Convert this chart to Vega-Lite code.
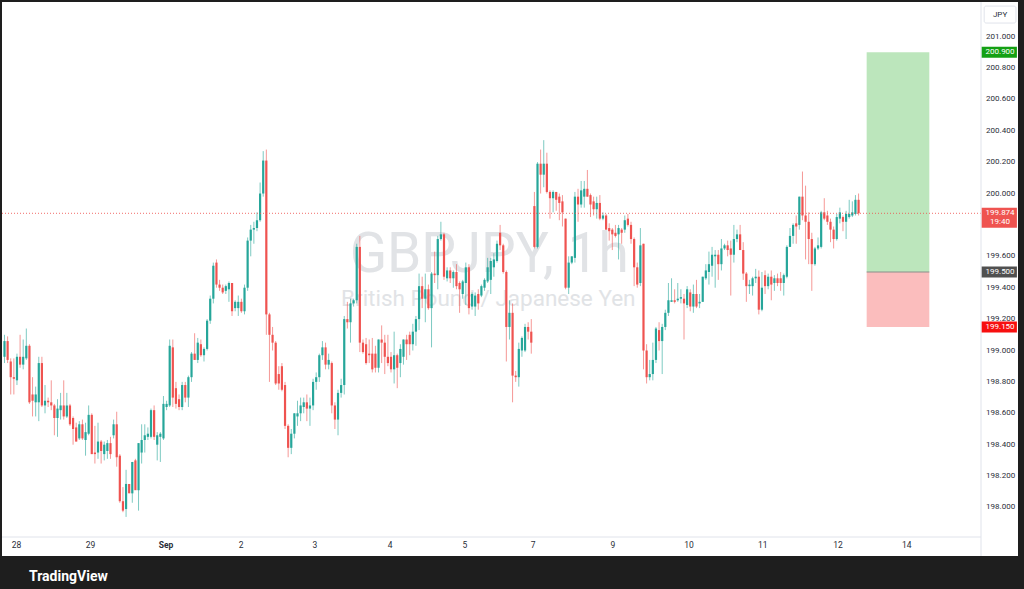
{
"$schema": "https://vega.github.io/schema/vega-lite/v6.json",
"width": 979, "height": 535,
"autosize": {"type": "none"},
"padding": {"left": 2, "top": 2, "right": 43, "bottom": 52},
"background": "#1e1e1e",
"title": {"text": "TradingView", "orient": "bottom", "anchor": "start", "offset": 25, "dx": 27.5, "fontSize": 14, "fontWeight": "bold", "color": "#ffffff", "font": "Roboto", "baseline": "alphabetic"},
"config": {"view": {"stroke": null}, "font": "Roboto", "scale": {"continuousPadding": 0}},
"datasets": {
"candles": [
{"i":0,"o":198.96,"h":199.10,"l":198.92,"c":199.06},
{"i":1,"o":199.06,"h":199.09,"l":198.92,"c":198.94},
{"i":2,"o":198.93,"h":198.95,"l":198.72,"c":198.83},
{"i":3,"o":198.83,"h":198.95,"l":198.72,"c":198.82},
{"i":4,"o":198.81,"h":198.98,"l":198.78,"c":198.96},
{"i":5,"o":198.96,"h":199.10,"l":198.89,"c":198.91},
{"i":6,"o":198.91,"h":199.07,"l":198.88,"c":198.96},
{"i":7,"o":198.95,"h":199.14,"l":198.94,"c":199.03},
{"i":8,"o":199.03,"h":199.04,"l":198.66,"c":198.67},
{"i":9,"o":198.72,"h":198.83,"l":198.58,"c":198.68},
{"i":10,"o":198.67,"h":198.77,"l":198.58,"c":198.72},
{"i":11,"o":198.67,"h":198.96,"l":198.55,"c":198.92},
{"i":12,"o":198.92,"h":198.96,"l":198.64,"c":198.65},
{"i":13,"o":198.65,"h":198.78,"l":198.60,"c":198.68},
{"i":14,"o":198.68,"h":198.70,"l":198.64,"c":198.67},
{"i":15,"o":198.67,"h":198.81,"l":198.62,"c":198.65},
{"i":16,"o":198.65,"h":198.66,"l":198.46,"c":198.57},
{"i":17,"o":198.57,"h":198.69,"l":198.45,"c":198.63},
{"i":18,"o":198.62,"h":198.73,"l":198.56,"c":198.65},
{"i":19,"o":198.65,"h":198.81,"l":198.56,"c":198.58},
{"i":20,"o":198.58,"h":198.73,"l":198.57,"c":198.65},
{"i":21,"o":198.65,"h":198.66,"l":198.52,"c":198.53},
{"i":22,"o":198.57,"h":198.58,"l":198.40,"c":198.50},
{"i":23,"o":198.51,"h":198.54,"l":198.42,"c":198.42},
{"i":24,"o":198.44,"h":198.55,"l":198.43,"c":198.53},
{"i":25,"o":198.53,"h":198.56,"l":198.43,"c":198.44},
{"i":26,"o":198.43,"h":198.54,"l":198.33,"c":198.48},
{"i":27,"o":198.47,"h":198.65,"l":198.46,"c":198.59},
{"i":28,"o":198.59,"h":198.60,"l":198.34,"c":198.34},
{"i":29,"o":198.35,"h":198.52,"l":198.28,"c":198.34},
{"i":30,"o":198.35,"h":198.54,"l":198.31,"c":198.42},
{"i":31,"o":198.42,"h":198.43,"l":198.28,"c":198.36},
{"i":32,"o":198.34,"h":198.42,"l":198.30,"c":198.40},
{"i":33,"o":198.36,"h":198.43,"l":198.31,"c":198.41},
{"i":34,"o":198.41,"h":198.45,"l":198.31,"c":198.34},
{"i":35,"o":198.46,"h":198.56,"l":198.44,"c":198.53},
{"i":36,"o":198.53,"h":198.61,"l":198.26,"c":198.32},
{"i":37,"o":198.33,"h":198.34,"l":198.03,"c":198.04},
{"i":38,"o":198.04,"h":198.13,"l":197.97,"c":197.98},
{"i":39,"o":197.99,"h":198.24,"l":197.94,"c":198.15},
{"i":40,"o":198.15,"h":198.15,"l":198.09,"c":198.09},
{"i":41,"o":198.09,"h":198.29,"l":198.03,"c":198.29},
{"i":42,"o":198.30,"h":198.31,"l":198.12,"c":198.11},
{"i":43,"o":198.11,"h":198.41,"l":197.98,"c":198.41},
{"i":44,"o":198.35,"h":198.53,"l":198.28,"c":198.43},
{"i":45,"o":198.43,"h":198.53,"l":198.35,"c":198.46},
{"i":46,"o":198.45,"h":198.51,"l":198.43,"c":198.47},
{"i":47,"o":198.45,"h":198.63,"l":198.44,"c":198.62},
{"i":48,"o":198.62,"h":198.65,"l":198.43,"c":198.45},
{"i":49,"o":198.40,"h":198.48,"l":198.30,"c":198.46},
{"i":50,"o":198.45,"h":198.48,"l":198.29,"c":198.47},
{"i":51,"o":198.44,"h":198.71,"l":198.43,"c":198.66},
{"i":52,"o":198.64,"h":198.68,"l":198.62,"c":198.66},
{"i":53,"o":198.65,"h":199.07,"l":198.64,"c":199.03},
{"i":54,"o":199.02,"h":199.07,"l":198.64,"c":198.70},
{"i":55,"o":198.76,"h":198.80,"l":198.63,"c":198.66},
{"i":56,"o":198.69,"h":198.72,"l":198.62,"c":198.64},
{"i":57,"o":198.64,"h":198.80,"l":198.62,"c":198.78},
{"i":58,"o":198.78,"h":198.80,"l":198.67,"c":198.70},
{"i":59,"o":198.70,"h":198.84,"l":198.64,"c":198.83},
{"i":60,"o":198.83,"h":198.99,"l":198.80,"c":198.98},
{"i":61,"o":198.98,"h":199.11,"l":198.94,"c":198.94},
{"i":62,"o":198.94,"h":199.08,"l":198.92,"c":199.05},
{"i":63,"o":199.04,"h":199.07,"l":198.96,"c":198.97},
{"i":64,"o":198.97,"h":199.02,"l":198.93,"c":199.01},
{"i":65,"o":199.01,"h":199.20,"l":199.00,"c":199.19},
{"i":66,"o":199.19,"h":199.35,"l":199.17,"c":199.33},
{"i":67,"o":199.33,"h":199.56,"l":199.30,"c":199.54},
{"i":68,"o":199.56,"h":199.58,"l":199.40,"c":199.42},
{"i":69,"o":199.42,"h":199.45,"l":199.38,"c":199.40},
{"i":70,"o":199.40,"h":199.42,"l":199.36,"c":199.37},
{"i":71,"o":199.38,"h":199.42,"l":199.36,"c":199.41},
{"i":72,"o":199.39,"h":199.44,"l":199.31,"c":199.43},
{"i":73,"o":199.43,"h":199.43,"l":199.22,"c":199.25},
{"i":74,"o":199.27,"h":199.32,"l":199.25,"c":199.31},
{"i":75,"o":199.27,"h":199.35,"l":199.22,"c":199.31},
{"i":76,"o":199.31,"h":199.33,"l":199.24,"c":199.25},
{"i":77,"o":199.25,"h":199.42,"l":199.23,"c":199.40},
{"i":78,"o":199.40,"h":199.72,"l":199.38,"c":199.70},
{"i":79,"o":199.70,"h":199.80,"l":199.60,"c":199.77},
{"i":80,"o":199.77,"h":199.82,"l":199.68,"c":199.78},
{"i":81,"o":199.78,"h":199.88,"l":199.76,"c":199.83},
{"i":82,"o":199.83,"h":200.07,"l":199.82,"c":200.00},
{"i":83,"o":200.00,"h":200.27,"l":199.98,"c":200.21},
{"i":84,"o":200.21,"h":200.28,"l":199.10,"c":199.23},
{"i":85,"o":199.23,"h":199.24,"l":198.80,"c":199.10},
{"i":86,"o":199.10,"h":199.15,"l":199.00,"c":199.05},
{"i":87,"o":199.05,"h":199.06,"l":198.78,"c":198.79},
{"i":88,"o":198.85,"h":198.90,"l":198.75,"c":198.79},
{"i":89,"o":198.90,"h":198.92,"l":198.74,"c":198.75},
{"i":90,"o":198.78,"h":198.80,"l":198.50,"c":198.52},
{"i":91,"o":198.52,"h":198.53,"l":198.32,"c":198.38},
{"i":92,"o":198.38,"h":198.50,"l":198.34,"c":198.47},
{"i":93,"o":198.47,"h":198.60,"l":198.44,"c":198.60},
{"i":94,"o":198.58,"h":198.68,"l":198.52,"c":198.60},
{"i":95,"o":198.60,"h":198.70,"l":198.55,"c":198.65},
{"i":96,"o":198.64,"h":198.70,"l":198.60,"c":198.67},
{"i":97,"o":198.67,"h":198.72,"l":198.55,"c":198.63},
{"i":98,"o":198.63,"h":198.70,"l":198.52,"c":198.65},
{"i":99,"o":198.65,"h":198.82,"l":198.62,"c":198.80},
{"i":100,"o":198.80,"h":198.86,"l":198.75,"c":198.83},
{"i":101,"o":198.83,"h":198.98,"l":198.80,"c":198.97},
{"i":102,"o":198.97,"h":199.06,"l":198.94,"c":199.02},
{"i":103,"o":199.02,"h":199.05,"l":198.88,"c":198.91},
{"i":104,"o":198.91,"h":198.98,"l":198.88,"c":198.94},
{"i":105,"o":198.92,"h":198.93,"l":198.60,"c":198.65},
{"i":106,"o":198.65,"h":198.67,"l":198.50,"c":198.56},
{"i":107,"o":198.56,"h":198.75,"l":198.46,"c":198.73},
{"i":108,"o":198.73,"h":198.82,"l":198.70,"c":198.78},
{"i":109,"o":198.78,"h":199.22,"l":198.72,"c":199.20},
{"i":110,"o":199.20,"h":199.31,"l":199.14,"c":199.18},
{"i":111,"o":199.18,"h":199.33,"l":199.05,"c":199.30},
{"i":112,"o":199.30,"h":199.33,"l":199.28,"c":199.32},
{"i":113,"o":199.32,"h":199.68,"l":199.30,"c":199.66},
{"i":114,"o":199.66,"h":199.73,"l":198.99,"c":199.05},
{"i":115,"o":199.05,"h":199.07,"l":198.98,"c":198.99},
{"i":116,"o":199.04,"h":199.08,"l":198.91,"c":198.92},
{"i":117,"o":198.98,"h":199.07,"l":198.92,"c":198.97},
{"i":118,"o":198.98,"h":199.08,"l":198.86,"c":198.88},
{"i":119,"o":198.98,"h":199.03,"l":198.86,"c":198.89},
{"i":120,"o":198.89,"h":199.07,"l":198.86,"c":199.07},
{"i":121,"o":199.07,"h":199.16,"l":198.92,"c":199.05},
{"i":122,"o":199.05,"h":199.10,"l":198.85,"c":198.96},
{"i":123,"o":198.96,"h":199.10,"l":198.90,"c":198.92},
{"i":124,"o":198.96,"h":198.99,"l":198.86,"c":198.88},
{"i":125,"o":198.88,"h":199.12,"l":198.79,"c":198.97},
{"i":126,"o":198.97,"h":198.98,"l":198.76,"c":198.89},
{"i":127,"o":198.92,"h":199.04,"l":198.83,"c":199.01},
{"i":128,"o":198.96,"h":199.07,"l":198.91,"c":199.07},
{"i":129,"o":199.07,"h":199.10,"l":198.94,"c":199.04},
{"i":130,"o":199.10,"h":199.12,"l":198.97,"c":199.04},
{"i":131,"o":199.04,"h":199.17,"l":199.00,"c":199.12},
{"i":132,"o":199.12,"h":199.22,"l":199.03,"c":199.20},
{"i":133,"o":199.20,"h":199.49,"l":199.13,"c":199.41},
{"i":134,"o":199.41,"h":199.47,"l":199.27,"c":199.33},
{"i":135,"o":199.33,"h":199.49,"l":199.18,"c":199.39},
{"i":136,"o":199.39,"h":199.42,"l":199.26,"c":199.27},
{"i":137,"o":199.27,"h":199.50,"l":199.02,"c":199.49},
{"i":138,"o":199.49,"h":199.63,"l":199.43,"c":199.48},
{"i":139,"o":199.48,"h":199.73,"l":199.39,"c":199.71},
{"i":140,"o":199.71,"h":199.82,"l":199.70,"c":199.74},
{"i":141,"o":199.74,"h":199.75,"l":199.45,"c":199.47},
{"i":142,"o":199.46,"h":199.53,"l":199.44,"c":199.51},
{"i":143,"o":199.51,"h":199.53,"l":199.43,"c":199.46},
{"i":144,"o":199.46,"h":199.51,"l":199.40,"c":199.50},
{"i":145,"o":199.50,"h":199.55,"l":199.39,"c":199.41},
{"i":146,"o":199.43,"h":199.44,"l":199.24,"c":199.39},
{"i":147,"o":199.36,"h":199.45,"l":199.33,"c":199.44},
{"i":148,"o":199.43,"h":199.56,"l":199.29,"c":199.53},
{"i":149,"o":199.53,"h":199.55,"l":199.23,"c":199.27},
{"i":150,"o":199.28,"h":199.37,"l":199.26,"c":199.36},
{"i":151,"o":199.28,"h":199.37,"l":199.22,"c":199.35},
{"i":152,"o":199.36,"h":199.39,"l":199.26,"c":199.30},
{"i":153,"o":199.35,"h":199.42,"l":199.34,"c":199.41},
{"i":154,"o":199.40,"h":199.46,"l":199.38,"c":199.45},
{"i":155,"o":199.44,"h":199.59,"l":199.43,"c":199.53},
{"i":156,"o":199.45,"h":199.59,"l":199.36,"c":199.57},
{"i":157,"o":199.53,"h":199.62,"l":199.47,"c":199.58},
{"i":158,"o":199.57,"h":199.70,"l":199.56,"c":199.68},
{"i":159,"o":199.75,"h":199.80,"l":199.64,"c":199.67},
{"i":160,"o":199.67,"h":199.68,"l":199.49,"c":199.50},
{"i":161,"o":199.50,"h":199.51,"l":198.93,"c":199.15},
{"i":162,"o":199.15,"h":199.32,"l":199.07,"c":199.24},
{"i":163,"o":199.24,"h":199.30,"l":198.67,"c":198.84},
{"i":164,"o":198.84,"h":198.87,"l":198.80,"c":198.83},
{"i":165,"o":198.83,"h":199.05,"l":198.77,"c":199.01},
{"i":166,"o":199.00,"h":199.09,"l":198.96,"c":199.08},
{"i":167,"o":199.00,"h":199.17,"l":198.99,"c":199.15},
{"i":168,"o":199.15,"h":199.18,"l":199.07,"c":199.12},
{"i":169,"o":199.12,"h":199.20,"l":198.98,"c":199.05},
{"i":170,"o":199.92,"h":200.01,"l":199.65,"c":199.66},
{"i":171,"o":199.66,"h":200.20,"l":199.65,"c":200.19},
{"i":172,"o":200.19,"h":200.28,"l":200.00,"c":200.12},
{"i":173,"o":200.12,"h":200.34,"l":200.04,"c":200.19},
{"i":174,"o":200.19,"h":200.26,"l":200.00,"c":200.01},
{"i":175,"o":200.01,"h":200.02,"l":199.84,"c":199.97},
{"i":176,"o":199.97,"h":200.02,"l":199.88,"c":200.01},
{"i":177,"o":200.01,"h":200.01,"l":199.89,"c":199.96},
{"i":178,"o":199.98,"h":200.00,"l":199.83,"c":199.94},
{"i":179,"o":199.95,"h":199.99,"l":199.79,"c":199.88},
{"i":180,"o":199.84,"h":199.84,"l":199.39,"c":199.40},
{"i":181,"o":199.40,"h":199.60,"l":199.36,"c":199.56},
{"i":182,"o":199.56,"h":199.60,"l":199.55,"c":199.60},
{"i":183,"o":199.59,"h":200.01,"l":199.56,"c":199.98},
{"i":184,"o":199.98,"h":200.03,"l":199.82,"c":199.93},
{"i":185,"o":199.93,"h":200.08,"l":199.91,"c":200.02},
{"i":186,"o":199.98,"h":200.08,"l":199.91,"c":200.03},
{"i":187,"o":200.03,"h":200.15,"l":199.98,"c":199.98},
{"i":188,"o":199.99,"h":200.00,"l":199.85,"c":199.93},
{"i":189,"o":199.95,"h":199.98,"l":199.86,"c":199.90},
{"i":190,"o":199.90,"h":199.98,"l":199.84,"c":199.94},
{"i":191,"o":199.94,"h":199.99,"l":199.83,"c":199.84},
{"i":192,"o":199.84,"h":199.88,"l":199.83,"c":199.86},
{"i":193,"o":199.86,"h":199.87,"l":199.77,"c":199.77},
{"i":194,"o":199.78,"h":199.81,"l":199.70,"c":199.76},
{"i":195,"o":199.77,"h":199.78,"l":199.64,"c":199.74},
{"i":196,"o":199.75,"h":199.80,"l":199.72,"c":199.73},
{"i":197,"o":199.74,"h":199.80,"l":199.58,"c":199.78},
{"i":198,"o":199.77,"h":199.78,"l":199.68,"c":199.75},
{"i":199,"o":199.77,"h":199.86,"l":199.75,"c":199.83},
{"i":200,"o":199.84,"h":199.87,"l":199.79,"c":199.80},
{"i":201,"o":199.80,"h":199.82,"l":199.68,"c":199.71},
{"i":202,"o":199.71,"h":199.72,"l":199.41,"c":199.53},
{"i":203,"o":199.53,"h":199.56,"l":199.40,"c":199.42},
{"i":204,"o":199.43,"h":199.78,"l":199.41,"c":199.67},
{"i":205,"o":199.68,"h":199.68,"l":198.88,"c":199.00},
{"i":206,"o":199.00,"h":199.04,"l":198.79,"c":198.83},
{"i":207,"o":198.83,"h":198.94,"l":198.81,"c":198.85},
{"i":208,"o":198.85,"h":199.05,"l":198.81,"c":198.94},
{"i":209,"o":198.94,"h":199.15,"l":198.92,"c":199.14},
{"i":210,"o":199.13,"h":199.18,"l":199.00,"c":199.06},
{"i":211,"o":199.06,"h":199.17,"l":198.85,"c":199.15},
{"i":212,"o":199.15,"h":199.26,"l":199.13,"c":199.24},
{"i":213,"o":199.24,"h":199.43,"l":199.22,"c":199.32},
{"i":214,"o":199.31,"h":199.46,"l":199.31,"c":199.32},
{"i":215,"o":199.32,"h":199.39,"l":199.30,"c":199.31},
{"i":216,"o":199.32,"h":199.43,"l":199.31,"c":199.33},
{"i":217,"o":199.33,"h":199.39,"l":199.30,"c":199.34},
{"i":218,"o":199.33,"h":199.36,"l":199.07,"c":199.30},
{"i":219,"o":199.29,"h":199.41,"l":199.27,"c":199.39},
{"i":220,"o":199.37,"h":199.39,"l":199.25,"c":199.28},
{"i":221,"o":199.28,"h":199.42,"l":199.24,"c":199.36},
{"i":222,"o":199.36,"h":199.45,"l":199.27,"c":199.28},
{"i":223,"o":199.30,"h":199.36,"l":199.27,"c":199.31},
{"i":224,"o":199.31,"h":199.47,"l":199.31,"c":199.47},
{"i":225,"o":199.46,"h":199.55,"l":199.45,"c":199.51},
{"i":226,"o":199.50,"h":199.63,"l":199.42,"c":199.55},
{"i":227,"o":199.54,"h":199.66,"l":199.47,"c":199.61},
{"i":228,"o":199.60,"h":199.64,"l":199.40,"c":199.61},
{"i":229,"o":199.61,"h":199.64,"l":199.45,"c":199.55},
{"i":230,"o":199.55,"h":199.71,"l":199.51,"c":199.65},
{"i":231,"o":199.65,"h":199.68,"l":199.64,"c":199.67},
{"i":232,"o":199.67,"h":199.70,"l":199.60,"c":199.64},
{"i":233,"o":199.65,"h":199.70,"l":199.35,"c":199.61},
{"i":234,"o":199.61,"h":199.80,"l":199.56,"c":199.71},
{"i":235,"o":199.71,"h":199.77,"l":199.69,"c":199.74},
{"i":236,"o":199.74,"h":199.80,"l":199.64,"c":199.64},
{"i":237,"o":199.64,"h":199.69,"l":199.45,"c":199.49},
{"i":238,"o":199.49,"h":199.50,"l":199.31,"c":199.41},
{"i":239,"o":199.41,"h":199.45,"l":199.36,"c":199.42},
{"i":240,"o":199.41,"h":199.47,"l":199.35,"c":199.46},
{"i":241,"o":199.46,"h":199.52,"l":199.43,"c":199.47},
{"i":242,"o":199.47,"h":199.51,"l":199.23,"c":199.26},
{"i":243,"o":199.26,"h":199.50,"l":199.25,"c":199.40},
{"i":244,"o":199.48,"h":199.51,"l":199.36,"c":199.41},
{"i":245,"o":199.41,"h":199.49,"l":199.39,"c":199.47},
{"i":246,"o":199.47,"h":199.51,"l":199.32,"c":199.42},
{"i":247,"o":199.43,"h":199.48,"l":199.38,"c":199.46},
{"i":248,"o":199.46,"h":199.49,"l":199.41,"c":199.43},
{"i":249,"o":199.46,"h":199.50,"l":199.38,"c":199.43},
{"i":250,"o":199.43,"h":199.49,"l":199.35,"c":199.48},
{"i":251,"o":199.47,"h":199.67,"l":199.46,"c":199.66},
{"i":252,"o":199.66,"h":199.78,"l":199.66,"c":199.73},
{"i":253,"o":199.73,"h":199.81,"l":199.68,"c":199.80},
{"i":254,"o":199.81,"h":199.86,"l":199.68,"c":199.79},
{"i":255,"o":199.80,"h":199.98,"l":199.77,"c":199.98},
{"i":256,"o":199.98,"h":200.14,"l":199.83,"c":199.86},
{"i":257,"o":199.86,"h":200.05,"l":199.58,"c":199.82},
{"i":258,"o":199.82,"h":199.88,"l":199.55,"c":199.71},
{"i":259,"o":199.71,"h":199.75,"l":199.38,"c":199.55},
{"i":260,"o":199.55,"h":199.66,"l":199.54,"c":199.65},
{"i":261,"o":199.65,"h":199.72,"l":199.64,"c":199.67},
{"i":262,"o":199.66,"h":199.89,"l":199.65,"c":199.88},
{"i":263,"o":199.88,"h":199.97,"l":199.83,"c":199.84},
{"i":264,"o":199.86,"h":199.89,"l":199.80,"c":199.82},
{"i":265,"o":199.82,"h":199.84,"l":199.69,"c":199.77},
{"i":266,"o":199.77,"h":199.79,"l":199.65,"c":199.71},
{"i":267,"o":199.71,"h":199.87,"l":199.70,"c":199.85},
{"i":268,"o":199.84,"h":199.91,"l":199.81,"c":199.88},
{"i":269,"o":199.85,"h":199.86,"l":199.76,"c":199.82},
{"i":270,"o":199.82,"h":199.89,"l":199.71,"c":199.87},
{"i":271,"o":199.85,"h":199.96,"l":199.84,"c":199.87},
{"i":272,"o":199.86,"h":199.95,"l":199.85,"c":199.88},
{"i":273,"o":199.87,"h":199.99,"l":199.86,"c":199.96},
{"i":274,"o":199.96,"h":200.00,"l":199.86,"c":199.874}
],
"position": [{"start": 276.6, "end": 296.7, "entry": 199.5, "target": 200.9, "stop": 199.15}],
"tags": [
{"kind": "target", "label": "200.900", "p": 200.9},
{"kind": "entry", "label": "199.500", "p": 199.5},
{"kind": "stop", "label": "199.150", "p": 199.15}
],
"last": [{"label": "199.874", "time": "19:40", "p": 199.874}],
"watermark": [{"title": "GBPJPY, 1h", "subtitle": "British Pound / Japanese Yen"}],
"currency": [{"code": "JPY"}],
"priceticks": [
{"v": 198.0, "label": "198.000"}, {"v": 198.2, "label": "198.200"}, {"v": 198.4, "label": "198.400"}, {"v": 198.6, "label": "198.600"},
{"v": 198.8, "label": "198.800"}, {"v": 199.0, "label": "199.000"}, {"v": 199.2, "label": "199.200"}, {"v": 199.4, "label": "199.400"},
{"v": 199.6, "label": "199.600"}, {"v": 200.0, "label": "200.000"}, {"v": 200.2, "label": "200.200"},
{"v": 200.4, "label": "200.400"}, {"v": 200.6, "label": "200.600"}, {"v": 200.8, "label": "200.800"}, {"v": 201.0, "label": "201.000"}
],
"dayticks": [
{"v": 3.85, "label": "28"}, {"v": 27.6, "label": "29"}, {"v": 75.9, "label": "2"}, {"v": 99.6, "label": "3"},
{"v": 123.7, "label": "4"}, {"v": 147.7, "label": "5"}, {"v": 169.6, "label": "7"}, {"v": 195.2, "label": "9"},
{"v": 219.6, "label": "10"}, {"v": 243.3, "label": "11"}, {"v": 267.4, "label": "12"}, {"v": 289.5, "label": "14"}
],
"monthticks": [{"v": 51.8, "label": "Sep"}]
},
"layer": [
{"data": {"name": "currency"}, "mark": {"type": "rect", "color": "#ffffff"},
 "encoding": {"x": {"datum": -0.802, "type": "quantitative", "scale": {"domain": [-0.802, 313.28], "nice": false, "zero": false, "padding": 0}, "axis": null},
  "x2": {"datum": 325.15},
  "y": {"datum": 197.691, "type": "quantitative", "scale": {"domain": [197.812, 201.22], "nice": false, "zero": false, "padding": 0}, "axis": null},
  "y2": {"datum": 201.22}}},
{"data": {"name": "watermark"}, "mark": {"type": "text", "fontSize": 55, "font": "Roboto", "color": "#e1e3e6", "align": "center", "baseline": "alphabetic"},
 "encoding": {"x": {"datum": 155.5, "type": "quantitative", "axis": null},
  "y": {"datum": 199.502, "type": "quantitative", "axis": null},
  "text": {"field": "title"}}},
{"data": {"name": "watermark"}, "mark": {"type": "text", "fontSize": 22.5, "font": "Roboto", "color": "#e1e3e6", "align": "center", "baseline": "alphabetic"},
 "encoding": {"x": {"datum": 155.2, "type": "quantitative", "axis": null},
  "y": {"datum": 199.283, "type": "quantitative", "axis": null},
  "text": {"field": "subtitle"}}},
{"data": {"name": "position"}, "mark": {"type": "rect", "color": "#bce6bc"},
 "encoding": {"x": {"field": "start", "type": "quantitative", "axis": null},
  "x2": {"field": "end"},
  "y": {"field": "entry", "type": "quantitative", "axis": null},
  "y2": {"field": "target"}}},
{"data": {"name": "position"}, "mark": {"type": "rect", "color": "#fbbdbd"},
 "encoding": {"x": {"field": "start", "type": "quantitative", "axis": null},
  "x2": {"field": "end"},
  "y": {"field": "entry", "type": "quantitative", "axis": null},
  "y2": {"field": "stop"}}},
{"data": {"name": "position"}, "mark": {"type": "rule", "color": "#8a8f8a", "strokeWidth": 1},
 "encoding": {"x": {"field": "start", "type": "quantitative", "axis": null},
  "x2": {"field": "end"},
  "y": {"field": "entry", "type": "quantitative", "axis": null}}},
{"data": {"name": "candles"}, "mark": {"type": "rule", "strokeWidth": 1, "opacity": 0.6},
 "encoding": {
  "x": {"field": "i", "type": "quantitative", "axis": null},
  "y": {"field": "l", "type": "quantitative", "axis": null},
  "y2": {"field": "h"},
  "color": {"condition": {"test": "datum.c >= datum.o", "value": "#26a69a"}, "value": "#ef5350"}}},
{"data": {"name": "candles"}, "mark": {"type": "bar", "size": 2.2},
 "encoding": {
  "x": {"field": "i", "type": "quantitative", "axis": null},
  "y": {"field": "o", "type": "quantitative", "axis": null},
  "y2": {"field": "c"},
  "color": {"condition": {"test": "datum.c >= datum.o", "value": "#26a69a"}, "value": "#ef5350"}}},
{"data": {"name": "last"}, "mark": {"type": "rule", "color": "#ef5350", "strokeWidth": 1, "strokeDash": [1, 2], "opacity": 0.85},
 "encoding": {"x": {"datum": -0.802, "type": "quantitative", "axis": null},
  "x2": {"datum": 313.28},
  "y": {"field": "p", "type": "quantitative", "axis": null}}},
{"data": {"name": "currency"}, "mark": {"type": "rule", "color": "#e0e3eb", "strokeWidth": 1},
 "encoding": {"x": {"datum": 313.28, "type": "quantitative", "axis": null},
  "y": {"datum": 197.691, "type": "quantitative", "axis": null},
  "y2": {"datum": 201.22}}},
{"data": {"name": "currency"}, "mark": {"type": "rule", "color": "#e0e3eb", "strokeWidth": 1},
 "encoding": {"x": {"datum": -0.802, "type": "quantitative", "axis": null},
  "x2": {"datum": 313.28},
  "y": {"datum": 197.812, "type": "quantitative", "axis": null}}},
{"data": {"name": "priceticks"}, "mark": {"type": "text", "color": "#2a2e39", "fontSize": 8, "font": "Roboto", "align": "left", "baseline": "middle"},
 "encoding": {"x": {"datum": 314.9, "type": "quantitative", "axis": null},
  "y": {"field": "v", "type": "quantitative", "axis": null},
  "text": {"field": "label"}}},
{"data": {"name": "dayticks"}, "mark": {"type": "text", "color": "#2a2e39", "fontSize": 8.5, "font": "Roboto", "align": "center", "baseline": "middle"},
 "encoding": {"x": {"field": "v", "type": "quantitative", "axis": null},
  "y": {"datum": 197.758, "type": "quantitative", "axis": null},
  "text": {"field": "label"}}},
{"data": {"name": "monthticks"}, "mark": {"type": "text", "color": "#2a2e39", "fontSize": 8.5, "font": "Roboto", "fontWeight": "bold", "align": "center", "baseline": "middle"},
 "encoding": {"x": {"field": "v", "type": "quantitative", "axis": null},
  "y": {"datum": 197.758, "type": "quantitative", "axis": null},
  "text": {"field": "label"}}},
{"data": {"name": "tags"}, "mark": {"type": "bar", "size": 11},
 "encoding": {"x": {"datum": 313.5, "type": "quantitative", "axis": null},
  "x2": {"datum": 324.8},
  "y": {"field": "p", "type": "quantitative", "axis": null},
  "color": {"field": "kind", "type": "nominal", "scale": {"domain": ["target", "entry", "stop"], "range": ["#14a014", "#505050", "#f70f0f"]}, "legend": null}}},
{"data": {"name": "last"}, "mark": {"type": "bar", "size": 20, "yOffset": 4.5, "color": "#ef5350"},
 "encoding": {"x": {"datum": 313.5, "type": "quantitative", "axis": null},
  "x2": {"datum": 324.8},
  "y": {"field": "p", "type": "quantitative", "axis": null}}},
{"data": {"name": "tags"}, "mark": {"type": "text", "color": "#ffffff", "fontSize": 8, "font": "Roboto", "align": "center", "baseline": "middle"},
 "encoding": {"x": {"datum": 319.4, "type": "quantitative", "axis": null},
  "y": {"field": "p", "type": "quantitative", "axis": null},
  "text": {"field": "label"}}},
{"data": {"name": "last"}, "mark": {"type": "text", "color": "#ffffff", "fontSize": 8, "font": "Roboto", "align": "center", "baseline": "middle"},
 "encoding": {"x": {"datum": 319.4, "type": "quantitative", "axis": null},
  "y": {"field": "p", "type": "quantitative", "axis": null},
  "text": {"field": "label"}}},
{"data": {"name": "last"}, "mark": {"type": "text", "color": "#ffffff", "fontSize": 8, "font": "Roboto", "align": "center", "baseline": "middle", "dy": 9},
 "encoding": {"x": {"datum": 319.4, "type": "quantitative", "axis": null},
  "y": {"field": "p", "type": "quantitative", "axis": null},
  "text": {"field": "time"}}},
{"data": {"name": "currency"}, "mark": {"type": "rect", "fill": "#ffffff", "stroke": "#e0e3eb", "strokeWidth": 1, "cornerRadius": 2},
 "encoding": {"x": {"datum": 314.3, "type": "quantitative", "axis": null},
  "x2": {"datum": 324.5},
  "y": {"datum": 201.194, "type": "quantitative", "axis": null},
  "y2": {"datum": 201.086}}},
{"data": {"name": "currency"}, "mark": {"type": "text", "color": "#2a2e39", "fontSize": 8, "font": "Roboto", "align": "center", "baseline": "middle"},
 "encoding": {"x": {"datum": 319.4, "type": "quantitative", "axis": null},
  "y": {"datum": 201.14, "type": "quantitative", "axis": null},
  "text": {"field": "code"}}}
]
}
